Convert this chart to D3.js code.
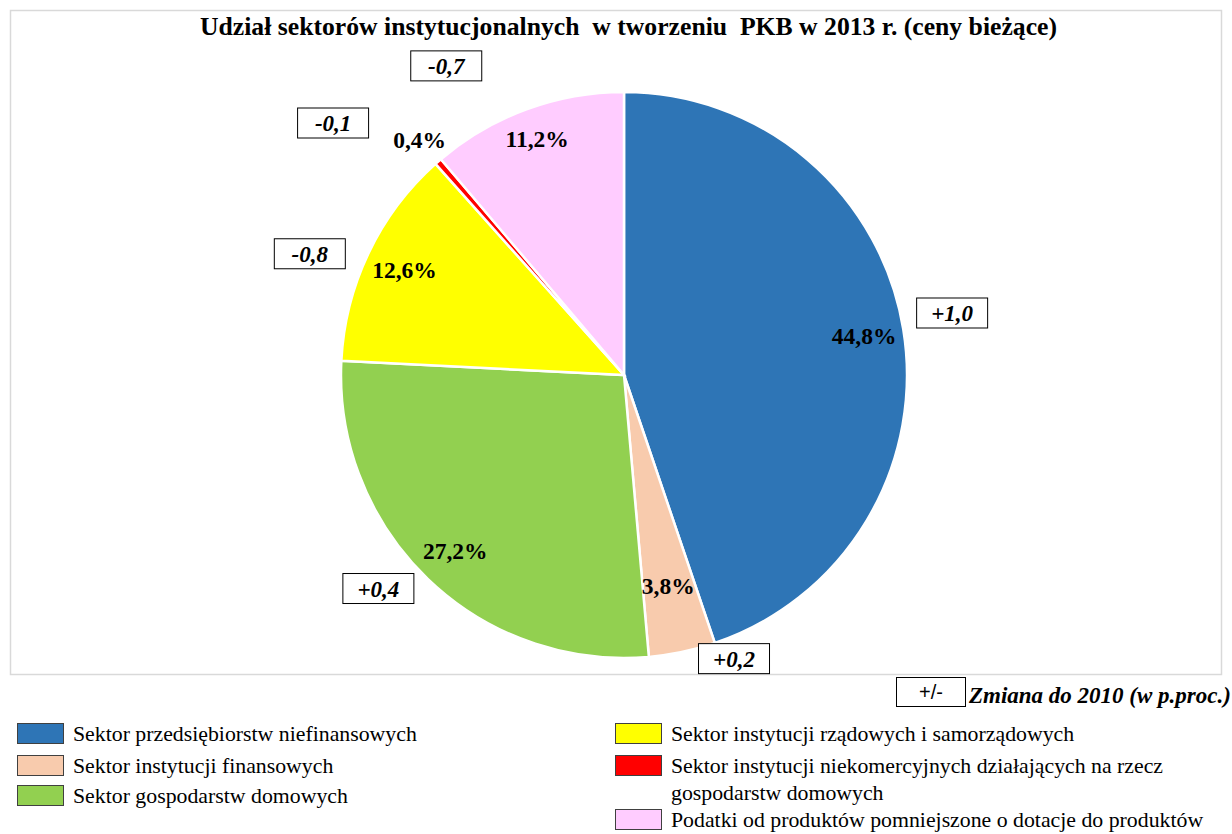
<!DOCTYPE html>
<html>
<head>
<meta charset="utf-8">
<script src="https://cdn.jsdelivr.net/npm/d3@7"></script>
<style>
  body { margin: 0; background: #fff; }
  svg text { font-family: "Liberation Serif", "Times New Roman", serif; }
</style>
</head>
<body>
<svg id="chart" width="1232" height="834"></svg>
<script>
// Data
const sectors = [
  "Sektor przedsiębiorstw niefinansowych",
  "Sektor instytucji finansowych",
  "Sektor gospodarstw domowych",
  "Sektor instytucji rządowych i samorządowych",
  "Sektor instytucji niekomercyjnych działających na rzecz gospodarstw domowych",
  "Podatki od produktów pomniejszone o dotacje do produktów"
];
const shares = [44.8, 3.8, 27.2, 12.6, 0.4, 11.2];
const changes = ["+1,0", "+0,2", "+0,4", "-0,8", "-0,1", "-0,7"];
const colors = ["#2e75b6", "#f8cbad", "#92d050", "#ffff00", "#ff0000", "#ffccff"];

// label layout (radius factors for share labels, angle/radius for change boxes)
const shareLabelR = [0.86, 0.76, 0.86, 0.86, 1.1, 0.89];
const changeLabelPos = [
  { a: 79.3, r: 1.18 }, { a: 158.8, r: 1.075 }, { a: 229, r: 1.15 },
  { a: 291.1, r: 1.19 }, { a: 310.9, r: 1.36 }, { a: 330.1, r: 1.26 }
];

const svg = d3.select("#chart");
const cx = 624, cy = 375, R = 283;

// chart area border
svg.append("rect")
  .attr("x", 10.5).attr("y", 10.5)
  .attr("width", 1211).attr("height", 664)
  .attr("fill", "none")
  .attr("stroke", "#d9d9d9")
  .attr("stroke-width", 1.5);

// Title
svg.append("text")
  .attr("x", 628.5).attr("y", 35)
  .attr("text-anchor", "middle")
  .attr("font-size", "25.5px")
  .attr("font-weight", "bold")
  .attr("textLength", 857)
  .attr("lengthAdjust", "spacingAndGlyphs")
  .style("white-space", "pre")
  .text("Udział sektorów instytucjonalnych  w tworzeniu  PKB w 2013 r. (ceny bieżące)");

const pie = d3.pie().sort(null).value(d => d);
const arcs = pie(shares);
const arc = d3.arc().innerRadius(0).outerRadius(R);

const g = svg.append("g").attr("transform", `translate(${cx},${cy})`);

g.selectAll("path")
  .data(arcs)
  .enter().append("path")
  .attr("d", arc)
  .attr("fill", (d, i) => colors[i])
  .attr("stroke", "#fff")
  .attr("stroke-width", 2.5);

// share labels
const fmt = v => d3.format(".1f")(v).replace(".", ",") + "%";
g.selectAll("text.share")
  .data(arcs)
  .enter().append("text")
  .attr("class", "share")
  .attr("x", (d, i) => Math.sin((d.startAngle + d.endAngle) / 2) * R * shareLabelR[i])
  .attr("y", (d, i) => -Math.cos((d.startAngle + d.endAngle) / 2) * R * shareLabelR[i])
  .attr("dy", "0.35em")
  .attr("text-anchor", "middle")
  .attr("font-size", "23.5px")
  .attr("font-weight", "bold")
  .text(d => fmt(d.data));

// change boxes
const boxW = 71, boxH = 30;
const chg = g.selectAll("g.chg")
  .data(changes)
  .enter().append("g")
  .attr("class", "chg")
  .attr("transform", (d, i) => {
    const a = changeLabelPos[i].a * Math.PI / 180;
    const r = changeLabelPos[i].r * R;
    return `translate(${Math.sin(a) * r},${-Math.cos(a) * r})`;
  });
chg.append("rect")
  .attr("x", -boxW / 2).attr("y", -boxH / 2)
  .attr("width", boxW).attr("height", boxH)
  .attr("fill", "#fff")
  .attr("stroke", "#000")
  .attr("stroke-width", 1);
chg.append("text")
  .attr("y", 8)
  .attr("text-anchor", "middle")
  .attr("font-size", "23px")
  .attr("font-weight", "bold")
  .attr("font-style", "italic")
  .text(d => d);

// change legend key
svg.append("rect")
  .attr("x", 896.5).attr("y", 677.5)
  .attr("width", 69).attr("height", 29)
  .attr("fill", "#fff").attr("stroke", "#000");
svg.append("text")
  .attr("x", 931).attr("y", 699)
  .attr("text-anchor", "middle")
  .attr("font-size", "20px")
  .style("font-family", "Liberation Sans, Arial, sans-serif")
  .text("+/-");
svg.append("text")
  .attr("x", 969).attr("y", 703)
  .attr("font-size", "23px")
  .attr("font-weight", "bold")
  .attr("font-style", "italic")
  .text("Zmiana do 2010 (w p.proc.)");

// Legend
const legendItems = [
  { i: 0, x: 17, y: 733, lines: [sectors[0]] },
  { i: 1, x: 17, y: 765, lines: [sectors[1]] },
  { i: 2, x: 17, y: 795, lines: [sectors[2]] },
  { i: 3, x: 615, y: 733, lines: [sectors[3]] },
  { i: 4, x: 615, y: 765, lines: ["Sektor instytucji niekomercyjnych działających na rzecz", "gospodarstw domowych"] },
  { i: 5, x: 615, y: 819, lines: [sectors[5]] }
];
const leg = svg.append("g").selectAll("g")
  .data(legendItems)
  .enter().append("g")
  .attr("transform", d => `translate(${d.x},${d.y})`);
leg.append("rect")
  .attr("x", 0.5).attr("y", -9.5)
  .attr("width", 46).attr("height", 20)
  .attr("fill", d => colors[d.i])
  .attr("stroke", "#404040")
  .attr("stroke-width", 1);
leg.each(function(d) {
  d3.select(this).selectAll("text")
    .data(d.lines)
    .enter().append("text")
    .attr("x", 56)
    .attr("y", (t, k) => k * 27 + 8)
    .attr("font-size", "21.8px")
    .text(t => t);
});
</script>
</body>
</html>
